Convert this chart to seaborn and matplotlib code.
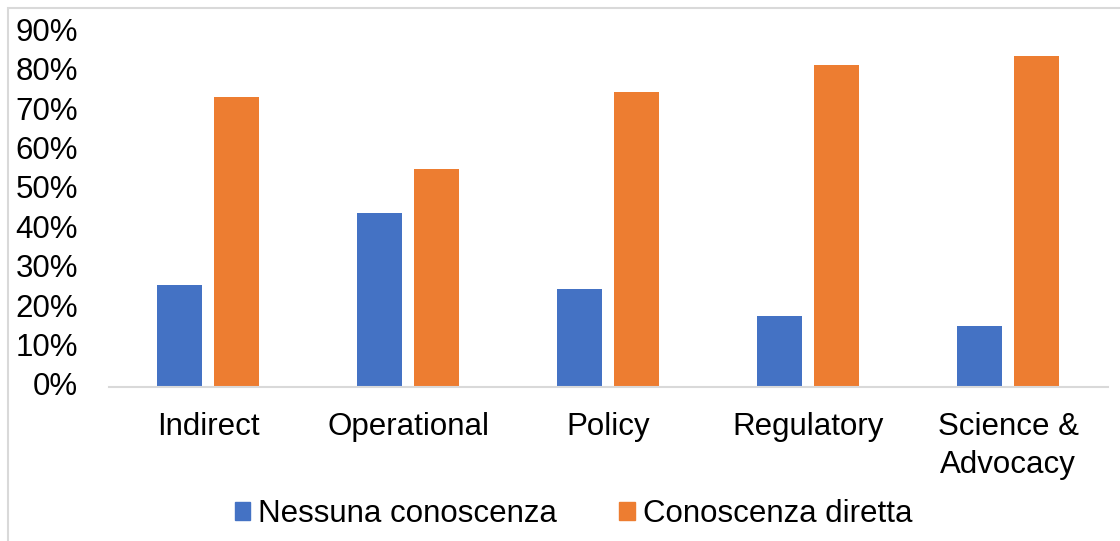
import matplotlib
matplotlib.use("Agg")
import matplotlib.pyplot as plt
from matplotlib.patches import Rectangle
from matplotlib.ticker import PercentFormatter
import numpy as np
import pandas as pd
import seaborn as sns

# Share of respondents per sector
categories = ["Indirect", "Operational", "Policy", "Regulatory", "Science &\nAdvocacy"]
nessuna_conoscenza = [26.0, 44.2, 24.9, 18.0, 15.6]
conoscenza_diretta = [73.7, 55.5, 74.9, 81.8, 84.2]
series_names = ["Nessuna conoscenza", "Conoscenza diretta"]
y_ticks = [0, 10, 20, 30, 40, 50, 60, 70, 80, 90]

colors = ["#4472C4", "#ED7D31"]

df = pd.DataFrame({
    "categoria": categories * 2,
    "serie": [series_names[0]] * len(categories) + [series_names[1]] * len(categories),
    "valore": nessuna_conoscenza + conoscenza_diretta,
})

sns.set_theme(style="white")
plt.rcParams["font.family"] = ["Liberation Sans", "DejaVu Sans"]
plt.rcParams["text.color"] = "#000000"

fig = plt.figure(figsize=(11.2, 5.41), dpi=100)
ax = fig.add_axes([0.0969, 0.2841, 0.8924, 0.6549])

sns.barplot(
    data=df, x="categoria", y="valore", hue="serie",
    hue_order=series_names, order=categories,
    palette=colors, width=0.57, gap=0.21, saturation=1,
    linewidth=0, ax=ax,
)

ax.set_xlim(-0.5, len(categories) - 0.5)
ax.set_ylim(0, 90)
ax.set_yticks(y_ticks)
ax.yaxis.set_major_formatter(PercentFormatter(decimals=0))
ax.set_xlabel("")
ax.set_ylabel("")

for side in ["top", "right", "left"]:
    ax.spines[side].set_visible(False)
ax.spines["bottom"].set_color("#d9d9d9")
ax.spines["bottom"].set_linewidth(1.5)

ax.tick_params(axis="y", length=0, pad=22, labelsize=22.5, labelcolor="#000000")
ax.tick_params(axis="x", length=0, pad=18, labelsize=22.5, labelcolor="#000000")
for lbl in ax.get_yticklabels():
    lbl.set_verticalalignment("center")
for lbl in ax.get_xticklabels():
    lbl.set_linespacing(1.35)

ax.legend_.remove()
handles = [plt.Rectangle((0, 0), 1, 1, color=c) for c in colors]
leg = fig.legend(
    handles, series_names, loc="center", bbox_to_anchor=(0.512, 0.049),
    ncol=2, frameon=False, fontsize=22.5, handlelength=0.5, handleheight=0.5,
    handletextpad=0.25, columnspacing=2.0, borderaxespad=0,
)
for t in leg.get_texts():
    t.set_color("#000000")

# Light frame of the chart area (top and left edges visible)
fig.patches.append(Rectangle((7.5 / 1120, -0.5), 2.0, 1.5 - 7.5 / 541,
                             transform=fig.transFigure, fill=False,
                             edgecolor="#d9d9d9", linewidth=1.5, zorder=0))

fig.savefig("out.png", dpi=100, facecolor="white")
